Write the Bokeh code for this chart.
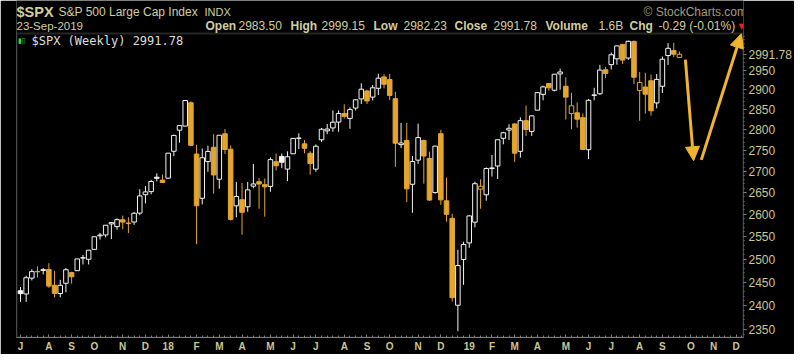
import pandas as pd
from bokeh.plotting import figure
from bokeh.models import (ColumnDataSource, Range1d, FixedTicker, Label, Arrow,
                          NormalHead, NumeralTickFormatter, BoxAnnotation)
from bokeh.embed import file_html
from bokeh.resources import INLINE

# ---------------- data (weekly $SPX, from week of 3 Jul 2017) ----------------
start_week = "2017-07-03"
opens = [2431.4, 2424.5, 2458.4, 2473.0, 2475.0, 2477.1, 2443.0, 2425.5, 2447.4, 2470.4,
         2474.5, 2502.5, 2499.4, 2521.2, 2551.4, 2553.4, 2578.1, 2572.0, 2587.5, 2580.2,
         2582.4, 2602.7, 2645.1, 2652.2, 2685.9, 2679.1, 2683.7, 2747.7, 2799.0, 2809.2,
         2867.2, 2741.1, 2636.8, 2723.0, 2757.4, 2681.1, 2790.2, 2752.7, 2619.4, 2633.5,
         2617.2, 2665.0, 2675.4, 2668.4, 2664.4, 2722.7, 2735.4, 2705.1, 2741.7, 2779.1,
         2765.8, 2742.9, 2705.0, 2775.6, 2797.4, 2804.6, 2819.0, 2840.3, 2828.0, 2853.9,
         2876.9, 2897.0, 2881.4, 2903.8, 2933.0, 2926.3, 2877.5, 2763.8, 2773.9, 2669.3,
         2726.4, 2773.9, 2730.7, 2650.0, 2790.5, 2630.9, 2590.8, 2400.6, 2498.9, 2535.6,
         2582.1, 2657.9, 2644.9, 2706.5, 2712.4, 2779.1, 2799.4, 2814.4, 2747.6, 2822.6,
         2796.0, 2848.6, 2888.3, 2916.0, 2898.8, 2940.6, 2908.9, 2840.2, 2841.9, 2830.0,
         2751.5, 2885.8, 2889.8, 2951.4, 2964.7, 2979.8, 3017.8, 2981.9, 3025.7, 2898.1,
         2907.1, 2923.1, 2866.7, 2909.0, 2988.4, 3001.5, 2983.50]
highs = [2439.2, 2463.5, 2477.6, 2484.0, 2480.4, 2490.9, 2474.0, 2454.8, 2480.4, 2472.1,
         2500.2, 2508.9, 2519.4, 2549.3, 2557.8, 2575.4, 2582.2, 2590.5, 2597.0, 2593.0,
         2605.0, 2657.7, 2665.2, 2679.6, 2695.0, 2692.1, 2743.2, 2787.9, 2810.3, 2872.9,
         2870.6, 2763.4, 2754.4, 2761.1, 2789.2, 2786.6, 2801.9, 2761.9, 2674.8, 2672.1,
         2674.7, 2717.5, 2683.6, 2682.9, 2732.9, 2742.1, 2742.2, 2747.6, 2779.9, 2791.5,
         2775.0, 2747.8, 2764.4, 2804.5, 2814.2, 2848.0, 2848.1, 2863.4, 2855.6, 2876.2,
         2916.5, 2900.2, 2912.0, 2941.0, 2939.9, 2940.9, 2894.8, 2816.9, 2816.9, 2736.2,
         2815.2, 2775.9, 2746.8, 2760.9, 2800.2, 2685.4, 2601.1, 2520.3, 2538.1, 2597.8,
         2675.5, 2681.1, 2709.0, 2739.0, 2775.7, 2795.1, 2813.5, 2816.9, 2830.7, 2860.3,
         2836.0, 2893.4, 2910.5, 2917.0, 2940.0, 2954.1, 2931.9, 2892.2, 2868.0, 2840.5,
         2876.5, 2905.0, 2964.2, 2959.0, 2996.0, 3013.9, 3017.8, 3028.0, 3028.0, 2945.5,
         2943.3, 2939.1, 2940.4, 2985.9, 3021.0, 3022.0, 2999.15]
lows = [2407.7, 2407.7, 2453.5, 2459.9, 2466.5, 2437.8, 2417.4, 2417.4, 2428.2, 2446.6,
        2474.5, 2488.0, 2488.0, 2521.2, 2543.0, 2547.9, 2544.0, 2565.0, 2566.3, 2557.4,
        2576.0, 2598.0, 2624.8, 2645.9, 2676.1, 2673.6, 2682.4, 2736.1, 2768.6, 2808.1,
        2760.0, 2532.7, 2622.5, 2698.7, 2647.3, 2658.9, 2741.4, 2585.9, 2593.1, 2553.8,
        2605.9, 2660.0, 2612.7, 2594.6, 2652.0, 2701.9, 2707.4, 2676.8, 2741.7, 2753.2,
        2742.9, 2692.0, 2699.0, 2770.1, 2789.2, 2795.1, 2795.1, 2827.7, 2802.5, 2848.0,
        2864.1, 2864.1, 2873.0, 2886.9, 2903.3, 2874.0, 2710.5, 2755.5, 2628.2, 2603.5,
        2717.6, 2670.8, 2631.1, 2647.6, 2621.5, 2583.2, 2408.6, 2346.6, 2444.0, 2524.6,
        2570.4, 2612.7, 2631.1, 2687.3, 2681.8, 2764.6, 2775.1, 2722.3, 2732.5, 2785.0,
        2785.0, 2848.6, 2873.3, 2898.2, 2896.0, 2900.5, 2825.4, 2801.4, 2805.5, 2750.5,
        2728.8, 2873.3, 2887.3, 2929.6, 2952.2, 2964.5, 2966.4, 2977.0, 2914.1, 2822.1,
        2840.0, 2835.0, 2853.1, 2891.9, 2964.0, 2985.0, 2982.23]
closes = [2425.2, 2459.3, 2472.5, 2472.1, 2476.8, 2441.3, 2425.6, 2443.1, 2476.6, 2461.4,
          2500.2, 2502.2, 2519.4, 2549.3, 2553.2, 2575.2, 2581.1, 2587.8, 2582.3, 2578.9,
          2602.4, 2642.2, 2651.5, 2675.8, 2683.3, 2673.6, 2743.2, 2786.2, 2810.3, 2872.9,
          2762.1, 2619.6, 2732.2, 2747.3, 2691.3, 2786.6, 2752.0, 2588.3, 2640.9, 2604.5,
          2656.3, 2670.1, 2669.9, 2663.4, 2727.7, 2713.0, 2721.3, 2734.6, 2779.0, 2779.7,
          2754.9, 2718.4, 2759.8, 2801.3, 2801.8, 2818.8, 2840.4, 2833.3, 2850.1, 2874.7,
          2901.5, 2871.7, 2905.0, 2929.7, 2914.0, 2885.6, 2767.1, 2767.8, 2658.7, 2723.1,
          2781.0, 2736.3, 2632.6, 2760.2, 2633.1, 2600.0, 2416.6, 2485.7, 2531.9, 2596.3,
          2670.7, 2664.8, 2706.5, 2707.9, 2775.6, 2792.7, 2803.7, 2743.1, 2822.5, 2800.7,
          2834.4, 2892.7, 2907.4, 2905.0, 2939.9, 2945.6, 2881.4, 2859.5, 2826.1, 2752.1,
          2873.3, 2887.0, 2950.5, 2941.8, 2990.4, 3013.8, 2976.6, 3025.9, 2932.1, 2918.7,
          2888.7, 2847.1, 2926.5, 2978.7, 3007.4, 2992.07, 2991.78]
volume_text = "1.6B"
price_ticks = [2350, 2400, 2450, 2500, 2550, 2600, 2650, 2700, 2750, 2800, 2850, 2900, 2950]
month_letters = ["J", "F", "M", "A", "M", "J", "J", "A", "S", "O", "N", "D"]
axis_weeks = 128  # the time axis runs on to December 2019

# ---------------- styling ----------------
WHITE = "#f4f4f4"
ORANGE = "#e3a52e"
ARROW = "#f0b431"
KHAKI = "#d2cea0"
AXIS_TXT = "#cbc793"
GRAY = "#7d7d7d"
FONT = "Liberation Sans"
FL, FR, FB = 16, 745, 338      # plot-area edges in page pixels (frame spans from the top)
PRICE_TOP = 3136.2             # price at the very top of the canvas
CHART_TOP = 3047.0             # price at the top border of the chart box

n = len(closes)
xs = list(range(n))
colors, fills, tops, bottoms = [], [], [], []
for i in range(n):
    up = i == 0 or closes[i] >= closes[i - 1]
    c = WHITE if up else ORANGE
    colors.append(c)
    fills.append("black" if closes[i] >= opens[i] else c)
    tops.append(max(opens[i], closes[i]))
    bottoms.append(min(opens[i], closes[i]))

src = ColumnDataSource(dict(x=xs, high=highs, low=lows, top=tops, bottom=bottoms,
                            color=colors, fill=fills))

p = figure(width=794, height=354, x_range=Range1d(-0.70, 127.28),
           y_range=Range1d(2333.7, PRICE_TOP), y_axis_type="log", y_axis_location="right",
           output_backend="svg", toolbar_location=None,
           min_border_left=FL, min_border_right=794 - FR, min_border_top=0,
           min_border_bottom=354 - FB,
           background_fill_color="black", border_fill_color="black",
           outline_line_color=None)
p.xgrid.visible = False
p.ygrid.visible = False

# chart box border (below the header strip)
p.add_layout(BoxAnnotation(top=CHART_TOP, fill_alpha=0, line_color=GRAY, line_width=2,
                           level="underlay"))

p.segment(x0="x", y0="low", x1="x", y1="high", line_color="color", line_width=1, source=src)
p.vbar(x="x", width=0.8, top="top", bottom="bottom", fill_color="fill",
       line_color="color", line_width=1, source=src)

# ---------------- right price axis ----------------
last_c, prev_c = closes[-1], closes[-2]
ya = p.yaxis[0]
ya.ticker = FixedTicker(ticks=price_ticks + [last_c], minor_ticks=list(range(2340, 3050, 10)))
ya.formatter = NumeralTickFormatter(format="0")
ya.major_label_overrides = {last_c: f"{last_c:.2f}"}
ya.axis_line_color = None
ya.major_tick_line_color = GRAY
ya.minor_tick_line_color = GRAY
ya.major_tick_out = 3
ya.major_tick_in = 0
ya.minor_tick_out = 1
ya.minor_tick_in = 0
ya.major_label_standoff = 2
ya.major_label_text_color = AXIS_TXT
ya.major_label_text_font = FONT
ya.major_label_text_font_size = "12px"

# ---------------- bottom time axis ----------------
all_weeks = pd.date_range(start_week, periods=axis_weeks, freq="W-MON")
month_ticks, overrides = [], {}
prev = None
for k, d in enumerate(all_weeks):
    if d.month != prev:
        month_ticks.append(k)
        overrides[k] = f"{d.year % 100:02d}" if d.month == 1 else month_letters[d.month - 1]
    prev = d.month

xa = p.xaxis[0]
xa.ticker = FixedTicker(ticks=month_ticks, minor_ticks=list(range(axis_weeks)))
xa.major_label_overrides = overrides
xa.axis_line_color = GRAY
xa.major_tick_line_color = GRAY
xa.minor_tick_line_color = GRAY
xa.major_tick_in = 3
xa.major_tick_out = 0
xa.minor_tick_in = 2
xa.minor_tick_out = 0
xa.major_label_standoff = 3
xa.major_label_text_color = AXIS_TXT
xa.major_label_text_font = FONT
xa.major_label_text_font_size = "10px"
xa.major_label_text_font_style = "bold"


def add_text(text, px, py, size, color, bold=False, font=FONT, align="left"):
    p.add_layout(Label(x=px - FL, y=FB - py, x_units="screen", y_units="screen",
                       text=text, text_font=font, text_font_size=f"{size}px",
                       text_font_style="bold" if bold else "normal",
                       text_color=color, text_align=align, text_baseline="middle"))


# ---------------- header ----------------
chg = last_c - prev_c
pct = chg / prev_c * 100
add_text("$SPX", 16, 12.5, 14.5, KHAKI, bold=True)
add_text("S&P 500 Large Cap Index", 58, 12.5, 12, KHAKI)
add_text("INDX", 204, 12.5, 11, KHAKI)
add_text("© StockCharts.com", 643, 12.5, 12, "#a19d7d")
add_text(all_weeks[n - 1].strftime("%d-%b-%Y"), 16, 26, 11.5, KHAKI)
row = [("Open", 205, True), (f"{opens[-1]:.2f}", 238, False),
       ("High", 290, True), (f"{highs[-1]:.2f}", 321, False),
       ("Low", 373, True), (f"{lows[-1]:.2f}", 403, False),
       ("Close", 454, True), (f"{last_c:.2f}", 493, False),
       ("Volume", 545, True), (volume_text, 598, False),
       ("Chg", 629, True), (f"{chg:.2f} ({pct:.2f}%)", 658, False)]
for t, px, b in row:
    add_text(t, px, 26, 12, KHAKI, bold=b)
add_text("▼", 741, 26.5, 8, "#e8221c", font="DejaVu Sans", align="center")

# legend inside the chart box
add_text("▮▯", 17.5, 41, 7, "#3fd83f", font="DejaVu Sans")
add_text(f"$SPX (Weekly) {last_c:.2f}", 31, 41.5, 12, "#dedede", font="DejaVu Sans Mono")

# ---------------- hand-drawn arrows ----------------
p.add_layout(Arrow(end=NormalHead(size=14, fill_color=ARROW, line_color=ARROW),
                   x_start=117.05, y_start=2978, x_end=118.5, y_end=2725,
                   line_color=ARROW, line_width=3))
p.add_layout(Arrow(end=NormalHead(size=14, fill_color=ARROW, line_color=ARROW),
                   x_start=119.85, y_start=2727, x_end=126.9, y_end=3046,
                   line_color=ARROW, line_width=3))

open("out.html", "w").write(file_html(p, INLINE))
